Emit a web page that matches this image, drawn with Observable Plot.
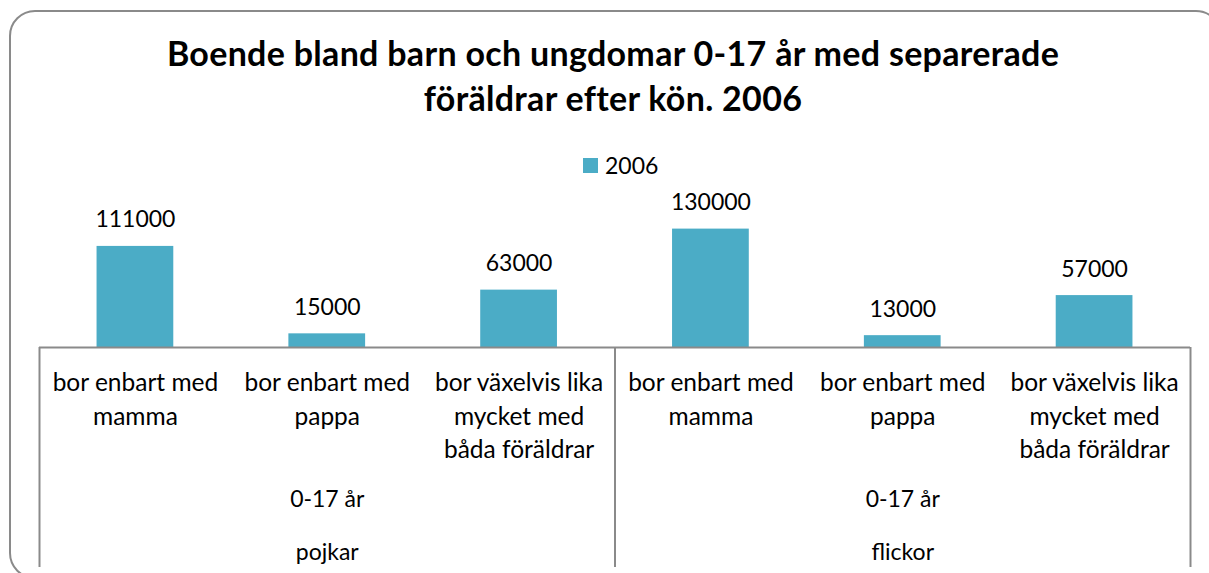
<!DOCTYPE html>
<html>
<head>
<meta charset="utf-8">
<script src="https://cdn.jsdelivr.net/npm/d3@7"></script>
<script src="https://cdn.jsdelivr.net/npm/@observablehq/plot@0.6"></script>
<style>
  html, body { margin: 0; padding: 0; background: #fff; }
  #wrap { position: relative; width: 1209px; height: 573px; overflow: hidden; background: #fff; font-family: Lato, "Open Sans", sans-serif; }
  #box { position: absolute; left: 9px; top: 10px; width: 1213px; height: 569px; box-sizing: border-box; border: 2px solid #8a8a8a; border-radius: 26px; }
  #title { position: absolute; left: 0; top: 30px; width: 1226px; text-align: center; font-weight: 700; font-size: 34px; letter-spacing: 0.3px; line-height: 45px; color: #000; }
  #legend { position: absolute; left: 583px; top: 150px; height: 30px; display: flex; align-items: center; font-size: 23px; color: #000; }
  #legend .sw { width: 15px; height: 15px; background: #4BACC6; margin-right: 7px; }
  #chart { position: absolute; left: 0; top: 185px; }
</style>
</head>
<body>
<div id="wrap">
  <div id="box"></div>
  <div id="title">Boende bland barn och ungdomar 0-17 år med separerade<br>föräldrar efter kön. 2006</div>
  <div id="legend"><div class="sw"></div><span id="legendText"></span></div>
  <div id="chart"></div>
</div>
<script>
// ---- data ----
const seriesName = "2006";
const groups = ["pojkar", "flickor"];
const ageLabel = "0-17 år";
const categories = [
  "bor enbart med\nmamma",
  "bor enbart med\npappa",
  "bor växelvis lika\nmycket med\nbåda föräldrar"
];
const pojkarValues = [111000, 15000, 63000];
const flickorValues = [130000, 13000, 57000];

// ---- table built from the arrays ----
const valuesByGroup = [pojkarValues, flickorValues];
const rows = groups.flatMap((g, gi) =>
  categories.map((c, ci) => ({ group: g, idx: gi * categories.length + ci, label: c, value: valuesByGroup[gi][ci] }))
);
const groupRows = groups.map((g, gi) => ({ group: g, center: gi * categories.length + categories.length / 2 }));
const boundaries = d3.range(groups.length + 1).map(i => i * categories.length);

document.getElementById("legendText").textContent = seriesName;

const barColor = "#4BACC6";
const lineColor = "#8a8a8a";
const W = 1209, H = 388;
const mTop = 34.5, mBottom = 226, mLeft = 39, mRight = 19;
const frameH = H - mTop - mBottom;

const chart = Plot.plot({
  width: W,
  height: H,
  marginTop: mTop,
  marginBottom: mBottom,
  marginLeft: mLeft,
  marginRight: mRight,
  style: { fontFamily: "Lato, 'Open Sans', sans-serif", fontSize: "23px", color: "#000", background: "transparent" },
  x: { domain: [0, rows.length], axis: null },
  y: { domain: [0, 140000], axis: null },
  marks: [
    Plot.rectY(rows, { x1: d => d.idx + 0.3, x2: d => d.idx + 0.7, y1: 0, y2: "value", fill: barColor }),
    Plot.text(rows, { x: d => d.idx + 0.5, y: "value", text: d => String(d.value), dy: -19, lineAnchor: "bottom", fill: "#000" }),
    Plot.ruleY([0], { stroke: lineColor, strokeWidth: 2 }),
    Plot.ruleX(boundaries, { x: d => d, stroke: lineColor, strokeWidth: 2, insetTop: frameH, insetBottom: -220 }),
    Plot.text(rows, { x: d => d.idx + 0.5, y: 0, text: "label", lineAnchor: "top", dy: 20, lineHeight: 1.367, fontSize: 24.5, fill: "#000" }),
    Plot.text(groupRows, { x: "center", y: 0, text: () => ageLabel, lineAnchor: "top", dy: 143.5, fill: "#000" }),
    Plot.text(groupRows, { x: "center", y: 0, text: "group", lineAnchor: "top", dy: 196, fill: "#000" })
  ]
});
document.getElementById("chart").appendChild(chart);
</script>
</body>
</html>
